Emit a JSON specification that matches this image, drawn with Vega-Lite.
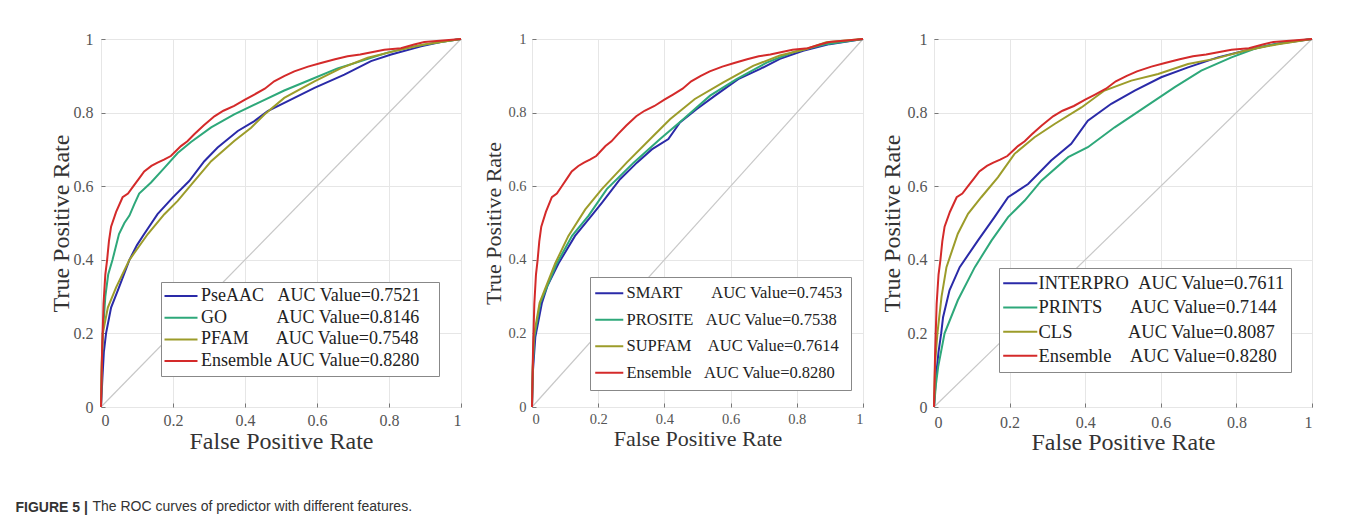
{
  "$schema": "https://vega.github.io/schema/vega-lite/v6.json",
  "background": "white",
  "padding": {"left": 15, "top": 30, "right": 0, "bottom": 0},
  "datasets": {
    "diag": [{"fpr": 0, "tpr": 0}, {"fpr": 1, "tpr": 1}],
    "ens": [
      {"s":"Ensemble","fpr":0,"tpr":0},{"s":"Ensemble","fpr":0.003,"tpr":0.15},{"s":"Ensemble","fpr":0.007,"tpr":0.28},{"s":"Ensemble","fpr":0.012,"tpr":0.36},{"s":"Ensemble","fpr":0.017,"tpr":0.40},{"s":"Ensemble","fpr":0.022,"tpr":0.45},{"s":"Ensemble","fpr":0.028,"tpr":0.49},{"s":"Ensemble","fpr":0.042,"tpr":0.53},{"s":"Ensemble","fpr":0.06,"tpr":0.57},{"s":"Ensemble","fpr":0.075,"tpr":0.58},{"s":"Ensemble","fpr":0.09,"tpr":0.60},{"s":"Ensemble","fpr":0.105,"tpr":0.62},{"s":"Ensemble","fpr":0.12,"tpr":0.64},{"s":"Ensemble","fpr":0.14,"tpr":0.655},{"s":"Ensemble","fpr":0.157,"tpr":0.664},{"s":"Ensemble","fpr":0.175,"tpr":0.672},{"s":"Ensemble","fpr":0.194,"tpr":0.682},{"s":"Ensemble","fpr":0.222,"tpr":0.709},{"s":"Ensemble","fpr":0.24,"tpr":0.722},{"s":"Ensemble","fpr":0.259,"tpr":0.741},{"s":"Ensemble","fpr":0.285,"tpr":0.765},{"s":"Ensemble","fpr":0.315,"tpr":0.79},{"s":"Ensemble","fpr":0.34,"tpr":0.805},{"s":"Ensemble","fpr":0.37,"tpr":0.818},{"s":"Ensemble","fpr":0.4,"tpr":0.835},{"s":"Ensemble","fpr":0.426,"tpr":0.849},{"s":"Ensemble","fpr":0.455,"tpr":0.865},{"s":"Ensemble","fpr":0.481,"tpr":0.885},{"s":"Ensemble","fpr":0.51,"tpr":0.9},{"s":"Ensemble","fpr":0.537,"tpr":0.912},{"s":"Ensemble","fpr":0.575,"tpr":0.925},{"s":"Ensemble","fpr":0.611,"tpr":0.935},{"s":"Ensemble","fpr":0.65,"tpr":0.945},{"s":"Ensemble","fpr":0.685,"tpr":0.953},{"s":"Ensemble","fpr":0.72,"tpr":0.958},{"s":"Ensemble","fpr":0.741,"tpr":0.962},{"s":"Ensemble","fpr":0.787,"tpr":0.971},{"s":"Ensemble","fpr":0.833,"tpr":0.975},{"s":"Ensemble","fpr":0.87,"tpr":0.985},{"s":"Ensemble","fpr":0.898,"tpr":0.992},{"s":"Ensemble","fpr":0.95,"tpr":0.996},{"s":"Ensemble","fpr":1,"tpr":1}
    ],
    "p1": [
      {"s":"PseAAC","fpr":0,"tpr":0},{"s":"PseAAC","fpr":0.004,"tpr":0.08},{"s":"PseAAC","fpr":0.008,"tpr":0.15},{"s":"PseAAC","fpr":0.014,"tpr":0.2},{"s":"PseAAC","fpr":0.028,"tpr":0.27},{"s":"PseAAC","fpr":0.05,"tpr":0.325},{"s":"PseAAC","fpr":0.079,"tpr":0.40},{"s":"PseAAC","fpr":0.1,"tpr":0.44},{"s":"PseAAC","fpr":0.12,"tpr":0.47},{"s":"PseAAC","fpr":0.157,"tpr":0.524},{"s":"PseAAC","fpr":0.199,"tpr":0.569},{"s":"PseAAC","fpr":0.245,"tpr":0.614},{"s":"PseAAC","fpr":0.287,"tpr":0.668},{"s":"PseAAC","fpr":0.324,"tpr":0.705},{"s":"PseAAC","fpr":0.38,"tpr":0.75},{"s":"PseAAC","fpr":0.426,"tpr":0.777},{"s":"PseAAC","fpr":0.463,"tpr":0.804},{"s":"PseAAC","fpr":0.519,"tpr":0.831},{"s":"PseAAC","fpr":0.593,"tpr":0.867},{"s":"PseAAC","fpr":0.676,"tpr":0.903},{"s":"PseAAC","fpr":0.75,"tpr":0.94},{"s":"PseAAC","fpr":0.806,"tpr":0.958},{"s":"PseAAC","fpr":0.889,"tpr":0.98},{"s":"PseAAC","fpr":0.95,"tpr":0.993},{"s":"PseAAC","fpr":1,"tpr":1},
      {"s":"GO","fpr":0,"tpr":0},{"s":"GO","fpr":0.002,"tpr":0.1},{"s":"GO","fpr":0.005,"tpr":0.2},{"s":"GO","fpr":0.012,"tpr":0.3},{"s":"GO","fpr":0.02,"tpr":0.36},{"s":"GO","fpr":0.032,"tpr":0.40},{"s":"GO","fpr":0.05,"tpr":0.47},{"s":"GO","fpr":0.065,"tpr":0.50},{"s":"GO","fpr":0.079,"tpr":0.52},{"s":"GO","fpr":0.092,"tpr":0.55},{"s":"GO","fpr":0.106,"tpr":0.58},{"s":"GO","fpr":0.139,"tpr":0.61},{"s":"GO","fpr":0.176,"tpr":0.65},{"s":"GO","fpr":0.213,"tpr":0.69},{"s":"GO","fpr":0.25,"tpr":0.72},{"s":"GO","fpr":0.306,"tpr":0.76},{"s":"GO","fpr":0.37,"tpr":0.795},{"s":"GO","fpr":0.444,"tpr":0.83},{"s":"GO","fpr":0.509,"tpr":0.86},{"s":"GO","fpr":0.583,"tpr":0.89},{"s":"GO","fpr":0.657,"tpr":0.92},{"s":"GO","fpr":0.722,"tpr":0.94},{"s":"GO","fpr":0.796,"tpr":0.963},{"s":"GO","fpr":0.87,"tpr":0.98},{"s":"GO","fpr":0.93,"tpr":0.99},{"s":"GO","fpr":1,"tpr":1},
      {"s":"PFAM","fpr":0,"tpr":0},{"s":"PFAM","fpr":0.002,"tpr":0.12},{"s":"PFAM","fpr":0.005,"tpr":0.2},{"s":"PFAM","fpr":0.019,"tpr":0.27},{"s":"PFAM","fpr":0.042,"tpr":0.325},{"s":"PFAM","fpr":0.079,"tpr":0.40},{"s":"PFAM","fpr":0.13,"tpr":0.47},{"s":"PFAM","fpr":0.176,"tpr":0.524},{"s":"PFAM","fpr":0.213,"tpr":0.56},{"s":"PFAM","fpr":0.259,"tpr":0.614},{"s":"PFAM","fpr":0.306,"tpr":0.668},{"s":"PFAM","fpr":0.37,"tpr":0.723},{"s":"PFAM","fpr":0.417,"tpr":0.759},{"s":"PFAM","fpr":0.454,"tpr":0.795},{"s":"PFAM","fpr":0.509,"tpr":0.84},{"s":"PFAM","fpr":0.593,"tpr":0.885},{"s":"PFAM","fpr":0.667,"tpr":0.921},{"s":"PFAM","fpr":0.741,"tpr":0.949},{"s":"PFAM","fpr":0.815,"tpr":0.967},{"s":"PFAM","fpr":0.898,"tpr":0.985},{"s":"PFAM","fpr":1,"tpr":1}
    ],
    "p2": [
      {"s":"SMART","fpr":0,"tpr":0},{"s":"SMART","fpr":0.003,"tpr":0.1},{"s":"SMART","fpr":0.01,"tpr":0.19},{"s":"SMART","fpr":0.03,"tpr":0.283},{"s":"SMART","fpr":0.047,"tpr":0.33},{"s":"SMART","fpr":0.08,"tpr":0.39},{"s":"SMART","fpr":0.13,"tpr":0.465},{"s":"SMART","fpr":0.18,"tpr":0.52},{"s":"SMART","fpr":0.211,"tpr":0.555},{"s":"SMART","fpr":0.266,"tpr":0.619},{"s":"SMART","fpr":0.317,"tpr":0.664},{"s":"SMART","fpr":0.362,"tpr":0.70},{"s":"SMART","fpr":0.412,"tpr":0.728},{"s":"SMART","fpr":0.447,"tpr":0.773},{"s":"SMART","fpr":0.497,"tpr":0.809},{"s":"SMART","fpr":0.553,"tpr":0.846},{"s":"SMART","fpr":0.623,"tpr":0.891},{"s":"SMART","fpr":0.688,"tpr":0.918},{"s":"SMART","fpr":0.749,"tpr":0.946},{"s":"SMART","fpr":0.819,"tpr":0.968},{"s":"SMART","fpr":0.899,"tpr":0.986},{"s":"SMART","fpr":1,"tpr":1},
      {"s":"PROSITE","fpr":0,"tpr":0},{"s":"PROSITE","fpr":0.002,"tpr":0.1},{"s":"PROSITE","fpr":0.007,"tpr":0.19},{"s":"PROSITE","fpr":0.025,"tpr":0.283},{"s":"PROSITE","fpr":0.075,"tpr":0.39},{"s":"PROSITE","fpr":0.121,"tpr":0.465},{"s":"PROSITE","fpr":0.171,"tpr":0.52},{"s":"PROSITE","fpr":0.226,"tpr":0.592},{"s":"PROSITE","fpr":0.307,"tpr":0.664},{"s":"PROSITE","fpr":0.387,"tpr":0.728},{"s":"PROSITE","fpr":0.457,"tpr":0.782},{"s":"PROSITE","fpr":0.538,"tpr":0.846},{"s":"PROSITE","fpr":0.618,"tpr":0.891},{"s":"PROSITE","fpr":0.709,"tpr":0.936},{"s":"PROSITE","fpr":0.789,"tpr":0.964},{"s":"PROSITE","fpr":0.889,"tpr":0.986},{"s":"PROSITE","fpr":1,"tpr":1},
      {"s":"SUPFAM","fpr":0,"tpr":0},{"s":"SUPFAM","fpr":0.002,"tpr":0.1},{"s":"SUPFAM","fpr":0.005,"tpr":0.19},{"s":"SUPFAM","fpr":0.023,"tpr":0.283},{"s":"SUPFAM","fpr":0.07,"tpr":0.39},{"s":"SUPFAM","fpr":0.11,"tpr":0.465},{"s":"SUPFAM","fpr":0.161,"tpr":0.537},{"s":"SUPFAM","fpr":0.211,"tpr":0.592},{"s":"SUPFAM","fpr":0.286,"tpr":0.664},{"s":"SUPFAM","fpr":0.367,"tpr":0.737},{"s":"SUPFAM","fpr":0.417,"tpr":0.782},{"s":"SUPFAM","fpr":0.492,"tpr":0.837},{"s":"SUPFAM","fpr":0.578,"tpr":0.882},{"s":"SUPFAM","fpr":0.668,"tpr":0.927},{"s":"SUPFAM","fpr":0.749,"tpr":0.955},{"s":"SUPFAM","fpr":0.829,"tpr":0.973},{"s":"SUPFAM","fpr":0.889,"tpr":0.991},{"s":"SUPFAM","fpr":1,"tpr":1}
    ],
    "p3": [
      {"s":"INTERPRO","fpr":0,"tpr":0},{"s":"INTERPRO","fpr":0.005,"tpr":0.08},{"s":"INTERPRO","fpr":0.012,"tpr":0.15},{"s":"INTERPRO","fpr":0.019,"tpr":0.2},{"s":"INTERPRO","fpr":0.024,"tpr":0.244},{"s":"INTERPRO","fpr":0.041,"tpr":0.317},{"s":"INTERPRO","fpr":0.068,"tpr":0.38},{"s":"INTERPRO","fpr":0.116,"tpr":0.452},{"s":"INTERPRO","fpr":0.16,"tpr":0.516},{"s":"INTERPRO","fpr":0.196,"tpr":0.57},{"s":"INTERPRO","fpr":0.249,"tpr":0.606},{"s":"INTERPRO","fpr":0.31,"tpr":0.67},{"s":"INTERPRO","fpr":0.363,"tpr":0.715},{"s":"INTERPRO","fpr":0.407,"tpr":0.778},{"s":"INTERPRO","fpr":0.469,"tpr":0.824},{"s":"INTERPRO","fpr":0.531,"tpr":0.86},{"s":"INTERPRO","fpr":0.601,"tpr":0.896},{"s":"INTERPRO","fpr":0.672,"tpr":0.923},{"s":"INTERPRO","fpr":0.751,"tpr":0.95},{"s":"INTERPRO","fpr":0.822,"tpr":0.968},{"s":"INTERPRO","fpr":0.901,"tpr":0.986},{"s":"INTERPRO","fpr":1,"tpr":1},
      {"s":"PRINTS","fpr":0,"tpr":0},{"s":"PRINTS","fpr":0.005,"tpr":0.06},{"s":"PRINTS","fpr":0.011,"tpr":0.109},{"s":"PRINTS","fpr":0.028,"tpr":0.2},{"s":"PRINTS","fpr":0.063,"tpr":0.29},{"s":"PRINTS","fpr":0.108,"tpr":0.38},{"s":"PRINTS","fpr":0.152,"tpr":0.452},{"s":"PRINTS","fpr":0.196,"tpr":0.516},{"s":"PRINTS","fpr":0.24,"tpr":0.561},{"s":"PRINTS","fpr":0.284,"tpr":0.615},{"s":"PRINTS","fpr":0.355,"tpr":0.679},{"s":"PRINTS","fpr":0.407,"tpr":0.706},{"s":"PRINTS","fpr":0.478,"tpr":0.76},{"s":"PRINTS","fpr":0.557,"tpr":0.814},{"s":"PRINTS","fpr":0.637,"tpr":0.869},{"s":"PRINTS","fpr":0.707,"tpr":0.914},{"s":"PRINTS","fpr":0.787,"tpr":0.95},{"s":"PRINTS","fpr":0.857,"tpr":0.977},{"s":"PRINTS","fpr":0.928,"tpr":0.991},{"s":"PRINTS","fpr":1,"tpr":1},
      {"s":"CLS","fpr":0,"tpr":0},{"s":"CLS","fpr":0.003,"tpr":0.12},{"s":"CLS","fpr":0.009,"tpr":0.2},{"s":"CLS","fpr":0.02,"tpr":0.3},{"s":"CLS","fpr":0.033,"tpr":0.38},{"s":"CLS","fpr":0.063,"tpr":0.471},{"s":"CLS","fpr":0.09,"tpr":0.525},{"s":"CLS","fpr":0.125,"tpr":0.57},{"s":"CLS","fpr":0.169,"tpr":0.624},{"s":"CLS","fpr":0.213,"tpr":0.688},{"s":"CLS","fpr":0.266,"tpr":0.733},{"s":"CLS","fpr":0.319,"tpr":0.769},{"s":"CLS","fpr":0.39,"tpr":0.814},{"s":"CLS","fpr":0.451,"tpr":0.86},{"s":"CLS","fpr":0.522,"tpr":0.887},{"s":"CLS","fpr":0.593,"tpr":0.905},{"s":"CLS","fpr":0.672,"tpr":0.932},{"s":"CLS","fpr":0.742,"tpr":0.946},{"s":"CLS","fpr":0.822,"tpr":0.968},{"s":"CLS","fpr":0.91,"tpr":0.986},{"s":"CLS","fpr":1,"tpr":1}
    ]
  },
  "title": {
    "text": "The ROC curves of predictor with different features.",
    "orient": "bottom", "anchor": "start",
    "font": "Liberation Sans", "fontSize": 14, "fontWeight": "normal", "color": "#333333",
    "offset": 0, "dx": 77, "dy": -15
  },
  "vconcat": [
    {
      "title": {
        "text": "FIGURE 5 |",
        "orient": "bottom", "anchor": "start",
        "font": "Liberation Sans", "fontSize": 14, "fontWeight": "bold", "color": "#333333",
        "offset": 46, "dx": -33
      },
      "bounds": "flush",
      "spacing": 71,
      "resolve": {"scale": {"color": "independent"}, "legend": {"color": "independent"}},
      "hconcat": [
        {
          "width": 360, "height": 368,
          "layer": [
            {"data": {"name": "diag"}, "mark": {"type": "line", "color": "#c8c8c8", "strokeWidth": 1.2},
             "encoding": {"x": {"field": "fpr", "type": "quantitative"}, "y": {"field": "tpr", "type": "quantitative"}}},
            {"data": {"name": "p1"}, "mark": {"type": "line", "strokeWidth": 2},
             "encoding": {
               "x": {"field": "fpr", "type": "quantitative", "scale": {"domain": [0, 1], "nice": false},
                     "axis": {"title": "False Positive Rate", "values": [0, 0.2, 0.4, 0.6, 0.8, 1], "format": "~g", "labelFontSize": 16, "titleFontSize": 24, "labelPadding": 9, "titlePadding": 1}},
               "y": {"field": "tpr", "type": "quantitative", "scale": {"domain": [0, 1], "nice": false},
                     "axis": {"title": "True Positive Rate", "values": [0, 0.2, 0.4, 0.6, 0.8, 1], "format": "~g", "labelFontSize": 16, "titleFontSize": 24, "labelPadding": 12, "titlePadding": 0}},
               "color": {"field": "s", "type": "nominal",
                 "scale": {"domain": ["PseAAC", "GO", "PFAM", "Ensemble"], "range": ["#2a2aa8", "#2ea87a", "#9c9c2a", "#d42a2a"]},
                 "legend": {"title": null, "orient": "none", "legendX": 60, "legendY": 243,
                   "labelFontSize": 18, "padding": 5, "rowPadding": 3.7,
                   "symbolType": "M-3,0H3", "symbolSize": 121, "symbolOffset": 6, "labelOffset": 11,
                   "labelExpr": "datum.label == 'PseAAC' ? 'PseAAC\u00a0\u00a0\u00a0AUC Value=0.7521\u2800' : datum.label == 'GO' ? 'GO\u00a0\u00a0\u00a0\u00a0\u00a0\u00a0\u00a0\u00a0\u00a0\u00a0\u00a0AUC Value=0.8146\u2800' : datum.label == 'PFAM' ? 'PFAM\u00a0\u00a0\u00a0\u00a0\u00a0\u00a0AUC Value=0.7548\u2800' : 'Ensemble\u00a0AUC Value=0.8280\u2800'"}}
             }},
            {"data": {"name": "ens"}, "mark": {"type": "line", "strokeWidth": 2},
             "encoding": {"x": {"field": "fpr", "type": "quantitative"}, "y": {"field": "tpr", "type": "quantitative"}, "color": {"field": "s", "type": "nominal"}}}
          ]
        },
        {
          "width": 331, "height": 368,
          "layer": [
            {"data": {"name": "diag"}, "mark": {"type": "line", "color": "#c8c8c8", "strokeWidth": 1.2},
             "encoding": {"x": {"field": "fpr", "type": "quantitative"}, "y": {"field": "tpr", "type": "quantitative"}}},
            {"data": {"name": "p2"}, "mark": {"type": "line", "strokeWidth": 2},
             "encoding": {
               "x": {"field": "fpr", "type": "quantitative", "scale": {"domain": [0, 1], "nice": false},
                     "axis": {"title": "False Positive Rate", "values": [0, 0.2, 0.4, 0.6, 0.8, 1], "format": "~g", "labelFontSize": 14.5, "titleFontSize": 22, "labelPadding": 9, "titlePadding": 3}},
               "y": {"field": "tpr", "type": "quantitative", "scale": {"domain": [0, 1], "nice": false},
                     "axis": {"title": "True Positive Rate", "values": [0, 0.2, 0.4, 0.6, 0.8, 1], "format": "~g", "labelFontSize": 14.5, "titleFontSize": 22, "labelPadding": 10, "titlePadding": 2}},
               "color": {"field": "s", "type": "nominal",
                 "scale": {"domain": ["SMART", "PROSITE", "SUPFAM", "Ensemble"], "range": ["#2a2aa8", "#2ea87a", "#9c9c2a", "#d42a2a"]},
                 "legend": {"title": null, "orient": "none", "legendX": 58, "legendY": 238,
                   "labelFontSize": 16.5, "padding": 8, "rowPadding": 9.5,
                   "symbolType": "M-2.55,0H2.55", "symbolSize": 121, "symbolOffset": 3, "labelOffset": 9,
                   "labelExpr": "datum.label == 'SMART' ? 'SMART\u00a0\u00a0\u00a0\u00a0\u00a0\u00a0\u00a0AUC Value=0.7453' : datum.label == 'PROSITE' ? 'PROSITE\u00a0\u00a0\u00a0AUC Value=0.7538' : datum.label == 'SUPFAM' ? 'SUPFAM\u00a0\u00a0\u00a0\u00a0AUC Value=0.7614' : 'Ensemble\u00a0\u00a0\u00a0AUC Value=0.8280'"}}
             }},
            {"data": {"name": "ens"}, "mark": {"type": "line", "strokeWidth": 2},
             "encoding": {"x": {"field": "fpr", "type": "quantitative"}, "y": {"field": "tpr", "type": "quantitative"}, "color": {"field": "s", "type": "nominal"}}}
          ]
        },
        {
          "width": 378, "height": 368,
          "layer": [
            {"data": {"name": "diag"}, "mark": {"type": "line", "color": "#c8c8c8", "strokeWidth": 1.2},
             "encoding": {"x": {"field": "fpr", "type": "quantitative"}, "y": {"field": "tpr", "type": "quantitative"}}},
            {"data": {"name": "p3"}, "mark": {"type": "line", "strokeWidth": 2},
             "encoding": {
               "x": {"field": "fpr", "type": "quantitative", "scale": {"domain": [0, 1], "nice": false},
                     "axis": {"title": "False Positive Rate", "values": [0, 0.2, 0.4, 0.6, 0.8, 1], "format": "~g", "labelFontSize": 16, "titleFontSize": 24, "labelPadding": 11, "titlePadding": 0}},
               "y": {"field": "tpr", "type": "quantitative", "scale": {"domain": [0, 1], "nice": false},
                     "axis": {"title": "True Positive Rate", "values": [0, 0.2, 0.4, 0.6, 0.8, 1], "format": "~g", "labelFontSize": 16, "titleFontSize": 24, "labelPadding": 11, "titlePadding": 3}},
               "color": {"field": "s", "type": "nominal",
                 "scale": {"domain": ["INTERPRO", "PRINTS", "CLS", "Ensemble"], "range": ["#2a2aa8", "#2ea87a", "#9c9c2a", "#d42a2a"]},
                 "legend": {"title": null, "orient": "none", "legendX": 65, "legendY": 229,
                   "labelFontSize": 18.5, "padding": 6, "rowPadding": 5.2,
                   "symbolType": "M-3.1,0H3.1", "symbolSize": 121, "symbolOffset": 6, "labelOffset": 9,
                   "labelExpr": "datum.label == 'INTERPRO' ? 'INTERPRO\u00a0\u00a0AUC Value=0.7611' : datum.label == 'PRINTS' ? 'PRINTS\u00a0\u00a0\u00a0\u00a0\u00a0\u00a0AUC Value=0.7144' : datum.label == 'CLS' ? 'CLS\u00a0\u00a0\u00a0\u00a0\u00a0\u00a0\u00a0\u00a0\u00a0\u00a0\u00a0\u00a0AUC Value=0.8087' : 'Ensemble\u00a0\u00a0\u00a0\u00a0AUC Value=0.8280'"}}
             }},
            {"data": {"name": "ens"}, "mark": {"type": "line", "strokeWidth": 2},
             "encoding": {"x": {"field": "fpr", "type": "quantitative"}, "y": {"field": "tpr", "type": "quantitative"}, "color": {"field": "s", "type": "nominal"}}}
          ]
        }
      ]
    }
  ],
  "config": {
    "view": {"stroke": "#8a8a8a", "strokeWidth": 1},
    "axis": {"domain": false, "ticks": true, "tickSize": -4, "tickColor": "#777777", "grid": true, "gridColor": "#e6e6e6", "gridWidth": 1,
             "labelFont": "Liberation Serif", "titleFont": "Liberation Serif", "labelColor": "#555555", "titleColor": "#333333", "titleFontWeight": "normal"},
    "legend": {"labelFont": "Liberation Serif", "labelColor": "#222222", "fillColor": "white", "strokeColor": "#888888", "symbolStrokeWidth": 2, "labelLimit": 400}
  }
}
